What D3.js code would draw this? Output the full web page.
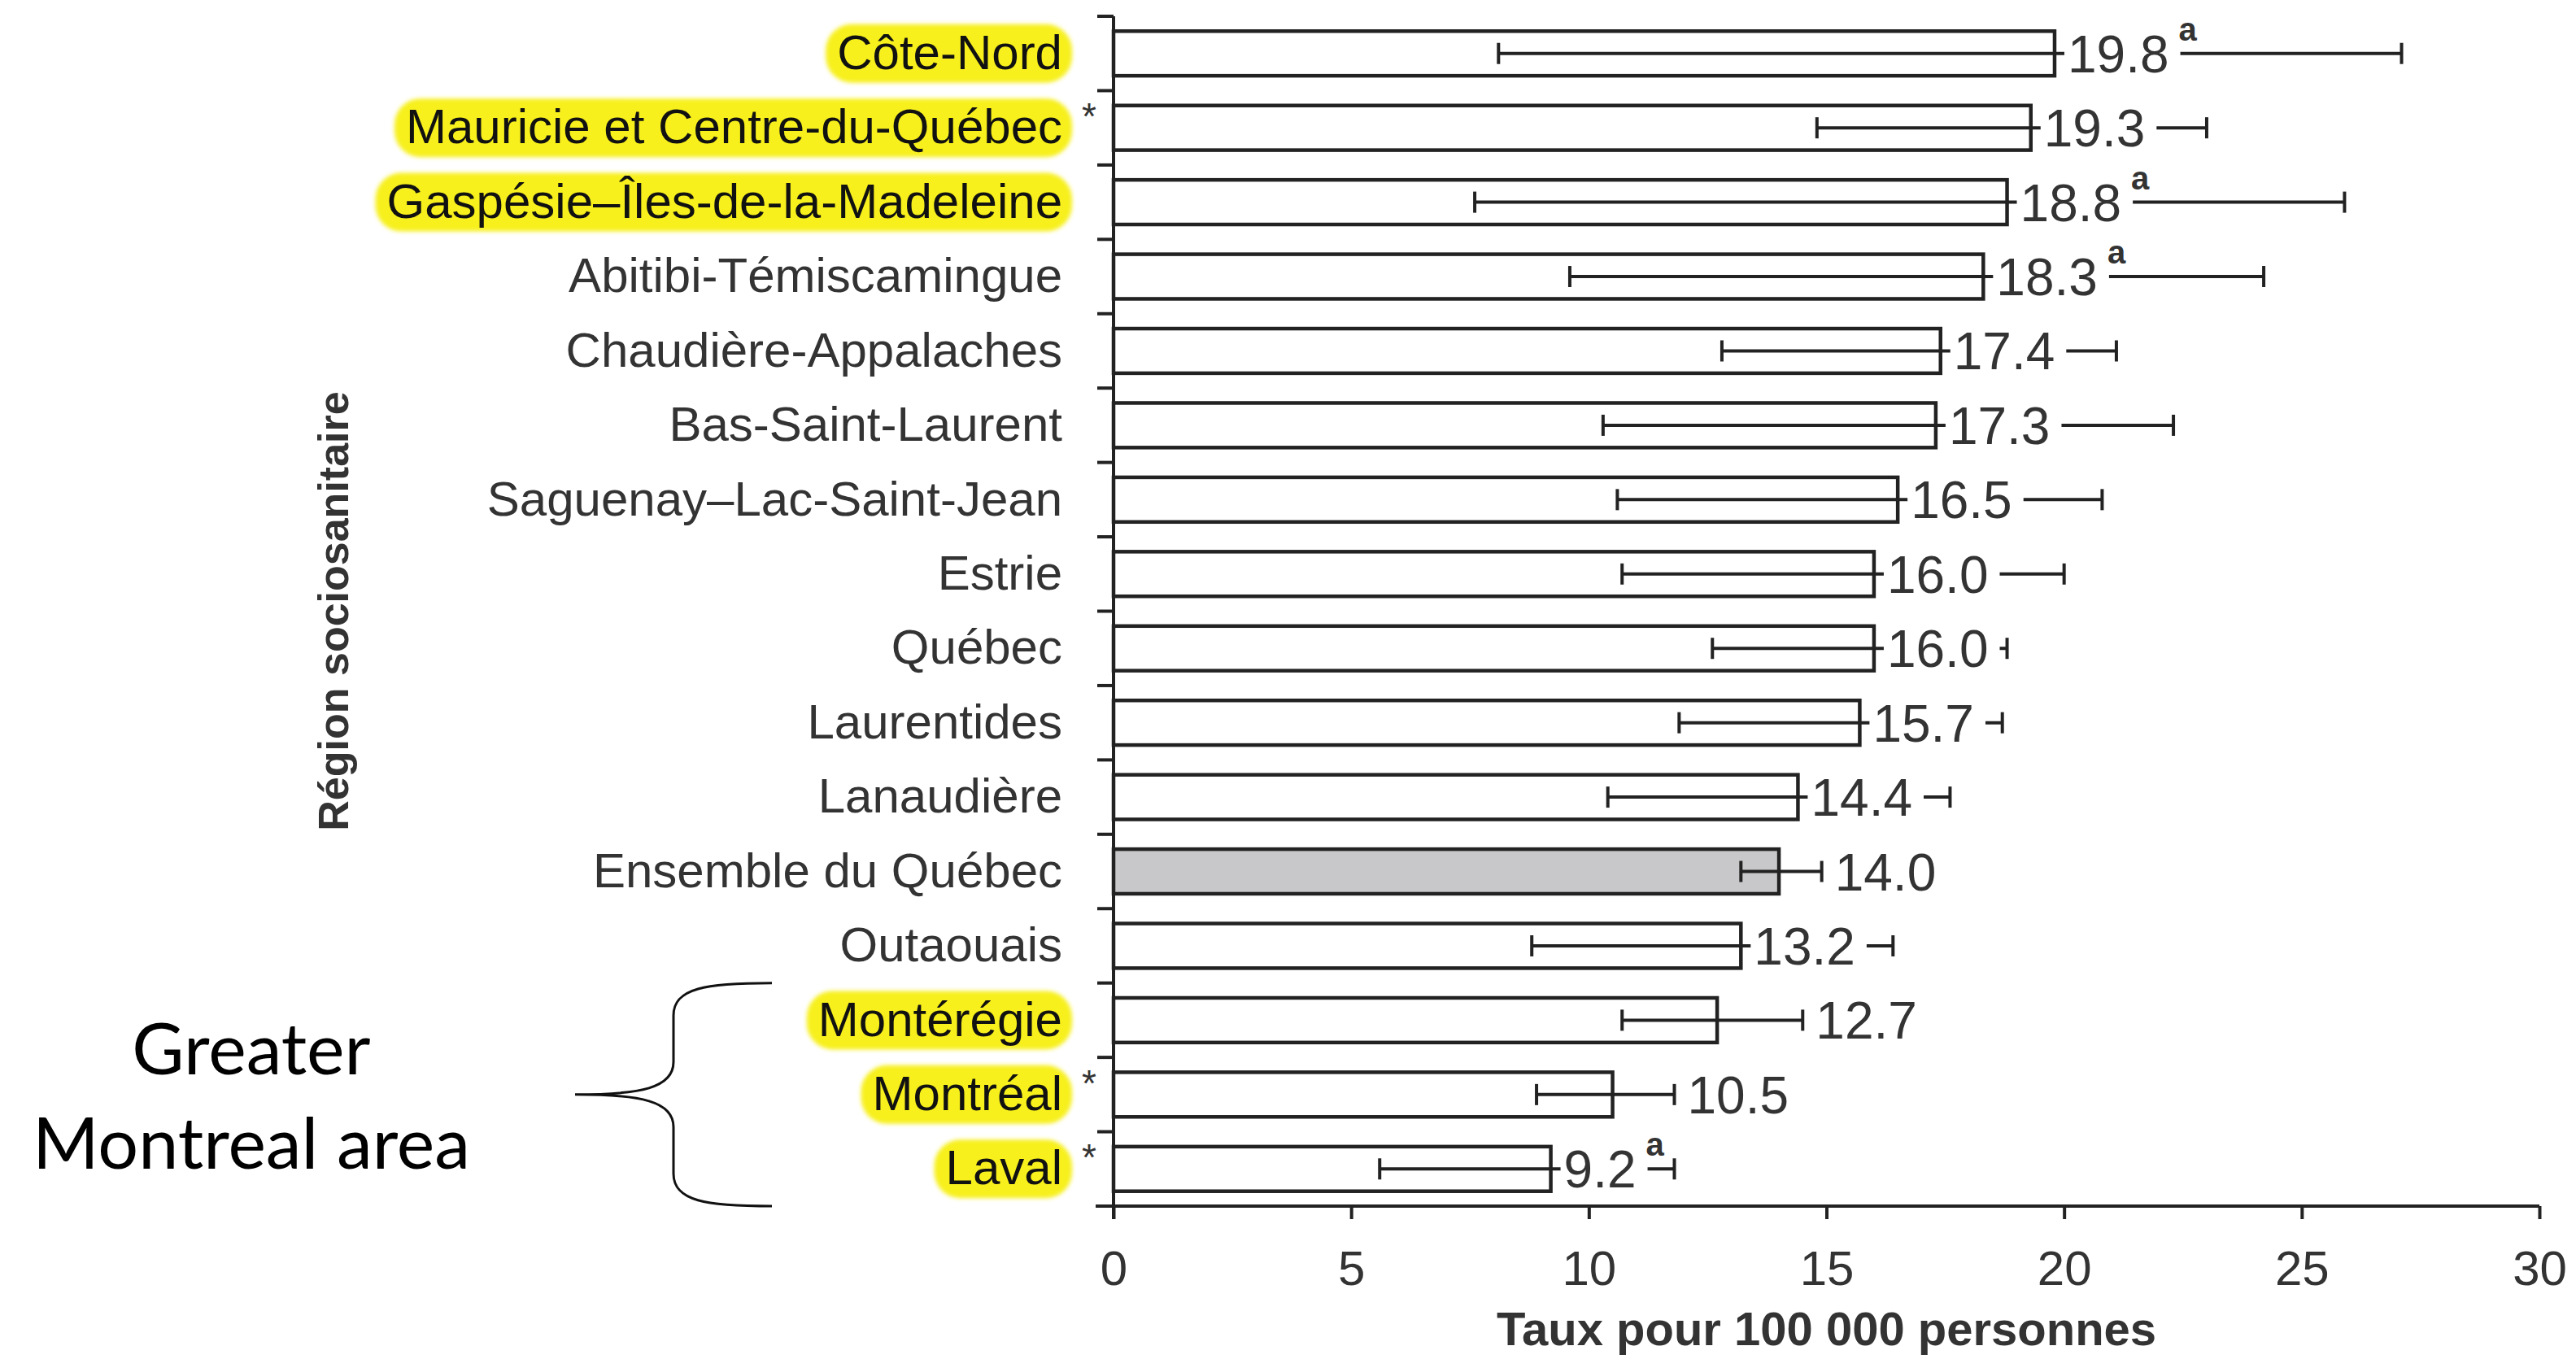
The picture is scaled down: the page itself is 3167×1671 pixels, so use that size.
<!DOCTYPE html>
<html>
<head>
<meta charset="utf-8">
<script src="https://cdn.jsdelivr.net/npm/d3@7"></script>
<style>
  html, body { margin: 0; padding: 0; background: #fff; }
</style>
</head>
<body>
<div id="grafico"></div>
<script>
const regions = [
  "Côte-Nord",
  "Mauricie et Centre-du-Québec",
  "Gaspésie–Îles-de-la-Madeleine",
  "Abitibi-Témiscamingue",
  "Chaudière-Appalaches",
  "Bas-Saint-Laurent",
  "Saguenay–Lac-Saint-Jean",
  "Estrie",
  "Québec",
  "Laurentides",
  "Lanaudière",
  "Ensemble du Québec",
  "Outaouais",
  "Montérégie",
  "Montréal",
  "Laval",
];
const rates = [19.8, 19.3, 18.8, 18.3, 17.4, 17.3, 16.5, 16.0, 16.0, 15.7, 14.4, 14.0, 13.2, 12.7, 10.5, 9.2];
const ciLow = [8.1, 14.8, 7.6, 9.6, 12.8, 10.3, 10.6, 10.7, 12.6, 11.9, 10.4, 13.2, 8.8, 10.7, 8.9, 5.6];
const ciHigh = [27.1, 23.0, 25.9, 24.2, 21.1, 22.3, 20.8, 20.0, 18.8, 18.7, 17.6, 14.9, 16.4, 14.5, 11.8, 11.8];
const highlighted = ["Côte-Nord", "Mauricie et Centre-du-Québec", "Gaspésie–Îles-de-la-Madeleine", "Montérégie", "Montréal", "Laval"];
const starred = ["Mauricie et Centre-du-Québec", "Montréal", "Laval"];
const noteA = ["Côte-Nord", "Gaspésie–Îles-de-la-Madeleine", "Abitibi-Témiscamingue", "Laval"];
const totalRegion = "Ensemble du Québec";
const groupRegions = ["Montérégie", "Montréal", "Laval"];
const groupLabel = ["Greater", "Montreal area"];
const xTicks = [0, 5, 10, 15, 20, 25, 30];
const xTitle = "Taux pour 100 000 personnes";
const yTitle = "Région sociosanitaire";

const width = 3167;
const height = 1671;
const margin = { top: 20, right: 45, bottom: 188, left: 1369 };
const font = "'Liberation Sans', Arial, sans-serif";
const ink = "#222";

const data = regions.map((r, i) => ({ region: r, rate: rates[i], lo: ciLow[i], hi: ciHigh[i] }));

const svg = d3
  .select("#grafico")
  .append("svg")
  .attr("width", width)
  .attr("height", height)
  .style("display", "block");

svg.append("defs")
  .append("filter")
  .attr("id", "soft")
  .append("feGaussianBlur")
  .attr("stdDeviation", 2.5);

const x = d3
  .scaleLinear()
  .domain([0, 30])
  .range([margin.left, width - margin.right]);

const y = d3
  .scaleBand()
  .domain(regions)
  .range([margin.top, height - margin.bottom])
  .paddingInner(0.4)
  .paddingOuter(0.2);

const cellTop = (r) => y(r) - y.step() * 0.2;
const mid = (r) => y(r) + y.bandwidth() / 2;
const axisY = height - margin.bottom;

// Barres
svg
  .append("g")
  .selectAll("rect")
  .data(data)
  .join("rect")
  .attr("x", x(0))
  .attr("y", (d) => y(d.region))
  .attr("width", (d) => x(d.rate) - x(0))
  .attr("height", y.bandwidth())
  .attr("fill", (d) => (d.region === totalRegion ? "#c8c8ca" : "#fff"))
  .attr("stroke", ink)
  .attr("stroke-width", 4.5);

// Intervalles de confiance
const err = svg.append("g").attr("stroke", ink).attr("stroke-width", 4);
err
  .selectAll("line.ci")
  .data(data)
  .join("line")
  .attr("class", "ci")
  .attr("x1", (d) => x(d.lo))
  .attr("x2", (d) => x(d.hi))
  .attr("y1", (d) => mid(d.region))
  .attr("y2", (d) => mid(d.region));
["lo", "hi"].forEach((k) => {
  err
    .selectAll("line.cap-" + k)
    .data(data)
    .join("line")
    .attr("class", "cap-" + k)
    .attr("x1", (d) => x(d[k]))
    .attr("x2", (d) => x(d[k]))
    .attr("y1", (d) => mid(d.region) - 13)
    .attr("y2", (d) => mid(d.region) + 13);
});

// Etiquettes de valeur
const labels = svg.append("g");
data.forEach((d) => {
  const g = labels.append("g");
  const t = g
    .append("text")
    .attr("y", mid(d.region) + 23)
    .attr("font-family", font)
    .attr("font-size", 64)
    .attr("fill", "#333")
    .text(d.rate.toFixed(1));
  const w = t.node().getComputedTextLength();
  const room = x(d.hi) - x(d.rate);
  const tx = room > w + 24 ? x(d.rate) + 16 : x(d.hi) + 16;
  t.attr("x", tx);
  g.insert("rect", "text")
    .attr("x", tx - 4)
    .attr("y", mid(d.region) - 28)
    .attr("width", w + 18)
    .attr("height", 56)
    .attr("fill", "#fff");
  if (noteA.includes(d.region)) {
    g.append("text")
      .attr("x", tx + w + 12)
      .attr("y", mid(d.region) - 16)
      .attr("font-family", font)
      .attr("font-size", 40)
      .attr("font-weight", "bold")
      .attr("fill", "#333")
      .text("a");
  }
});

// Axe X
const gx = svg
  .append("g")
  .attr("transform", `translate(0,${axisY})`)
  .call(d3.axisBottom(x).tickValues(xTicks).tickSize(16).tickPadding(38));
gx.select(".domain").remove();
gx.selectAll(".tick line").attr("stroke", ink).attr("stroke-width", 4);
gx.selectAll(".tick text")
  .attr("font-family", font)
  .attr("font-size", 60)
  .attr("fill", "#333");
svg
  .append("line")
  .attr("x1", x(0) - 22)
  .attr("x2", x(30))
  .attr("y1", axisY)
  .attr("y2", axisY)
  .attr("stroke", ink)
  .attr("stroke-width", 4);

// Axe Y
svg
  .append("line")
  .attr("x1", x(0))
  .attr("x2", x(0))
  .attr("y1", margin.top)
  .attr("y2", axisY + 16)
  .attr("stroke", ink)
  .attr("stroke-width", 4);
svg
  .append("g")
  .selectAll("line")
  .data(regions)
  .join("line")
  .attr("x1", x(0) - 20)
  .attr("x2", x(0))
  .attr("y1", (d) => cellTop(d))
  .attr("y2", (d) => cellTop(d))
  .attr("stroke", ink)
  .attr("stroke-width", 4);

const gy = svg
  .append("g")
  .attr("transform", `translate(${x(0)},0)`)
  .call(d3.axisLeft(y).tickSize(0).tickPadding(63));
gy.select(".domain").remove();
gy.selectAll(".tick text")
  .attr("font-family", font)
  .attr("font-size", 60)
  .attr("fill", (d) => (highlighted.includes(d) ? "#111" : "#333"));

// Surlignage jaune
gy.selectAll(".tick").each(function (d) {
  if (!highlighted.includes(d)) return;
  const tick = d3.select(this);
  const b = tick.select("text").node().getBBox();
  tick
    .insert("rect", "text")
    .attr("x", b.x - 14)
    .attr("y", -36)
    .attr("width", b.width + 26)
    .attr("height", 72)
    .attr("rx", 32)
    .attr("fill", "#f7f01c")
    .attr("filter", "url(#soft)");
});

// Astérisques
svg
  .append("g")
  .selectAll("text")
  .data(starred)
  .join("text")
  .attr("x", x(0) - 30)
  .attr("y", (d) => mid(d) + 2)
  .attr("text-anchor", "middle")
  .attr("font-family", font)
  .attr("font-size", 46)
  .attr("fill", "#333")
  .text("*");

// Titres des axes
svg
  .append("text")
  .attr("x", (x(0) + x(30)) / 2)
  .attr("y", 1654)
  .attr("text-anchor", "middle")
  .attr("font-family", font)
  .attr("font-size", 58)
  .attr("font-weight", "bold")
  .attr("fill", "#333")
  .text(xTitle);

svg
  .append("text")
  .attr("transform", `translate(428,${(margin.top + axisY) / 2}) rotate(-90)`)
  .attr("text-anchor", "middle")
  .attr("font-family", font)
  .attr("font-size", 52)
  .attr("font-weight", "bold")
  .attr("fill", "#333")
  .text(yTitle);

// Accolade - Grand Montréal
const bTop = cellTop(groupRegions[0]);
const bBot = cellTop(groupRegions[groupRegions.length - 1]) + y.step();
const bMid = (bTop + bBot) / 2;
const bx1 = 949, bx2 = 828, bx3 = 707;
svg
  .append("path")
  .attr(
    "d",
    `M${bx1},${bTop} C${bx2 + 40},${bTop} ${bx2},${bTop + 6} ${bx2},${bTop + 40}` +
      ` L${bx2},${bMid - 40} C${bx2},${bMid - 8} ${bx2 - 40},${bMid} ${bx3},${bMid}` +
      ` C${bx2 - 40},${bMid} ${bx2},${bMid + 8} ${bx2},${bMid + 40}` +
      ` L${bx2},${bBot - 40} C${bx2},${bBot - 6} ${bx2 + 40},${bBot} ${bx1},${bBot}`
  )
  .attr("fill", "none")
  .attr("stroke", "#111")
  .attr("stroke-width", 3);

svg
  .append("g")
  .selectAll("text")
  .data(groupLabel)
  .join("text")
  .attr("x", 309)
  .attr("y", (d, i) => 1321 + i * 116)
  .attr("text-anchor", "middle")
  .attr("font-family", "Lato, 'Open Sans', sans-serif")
  .attr("font-size", 88)
  .attr("fill", "#000")
  .text((d) => d);
</script>
</body>
</html>
